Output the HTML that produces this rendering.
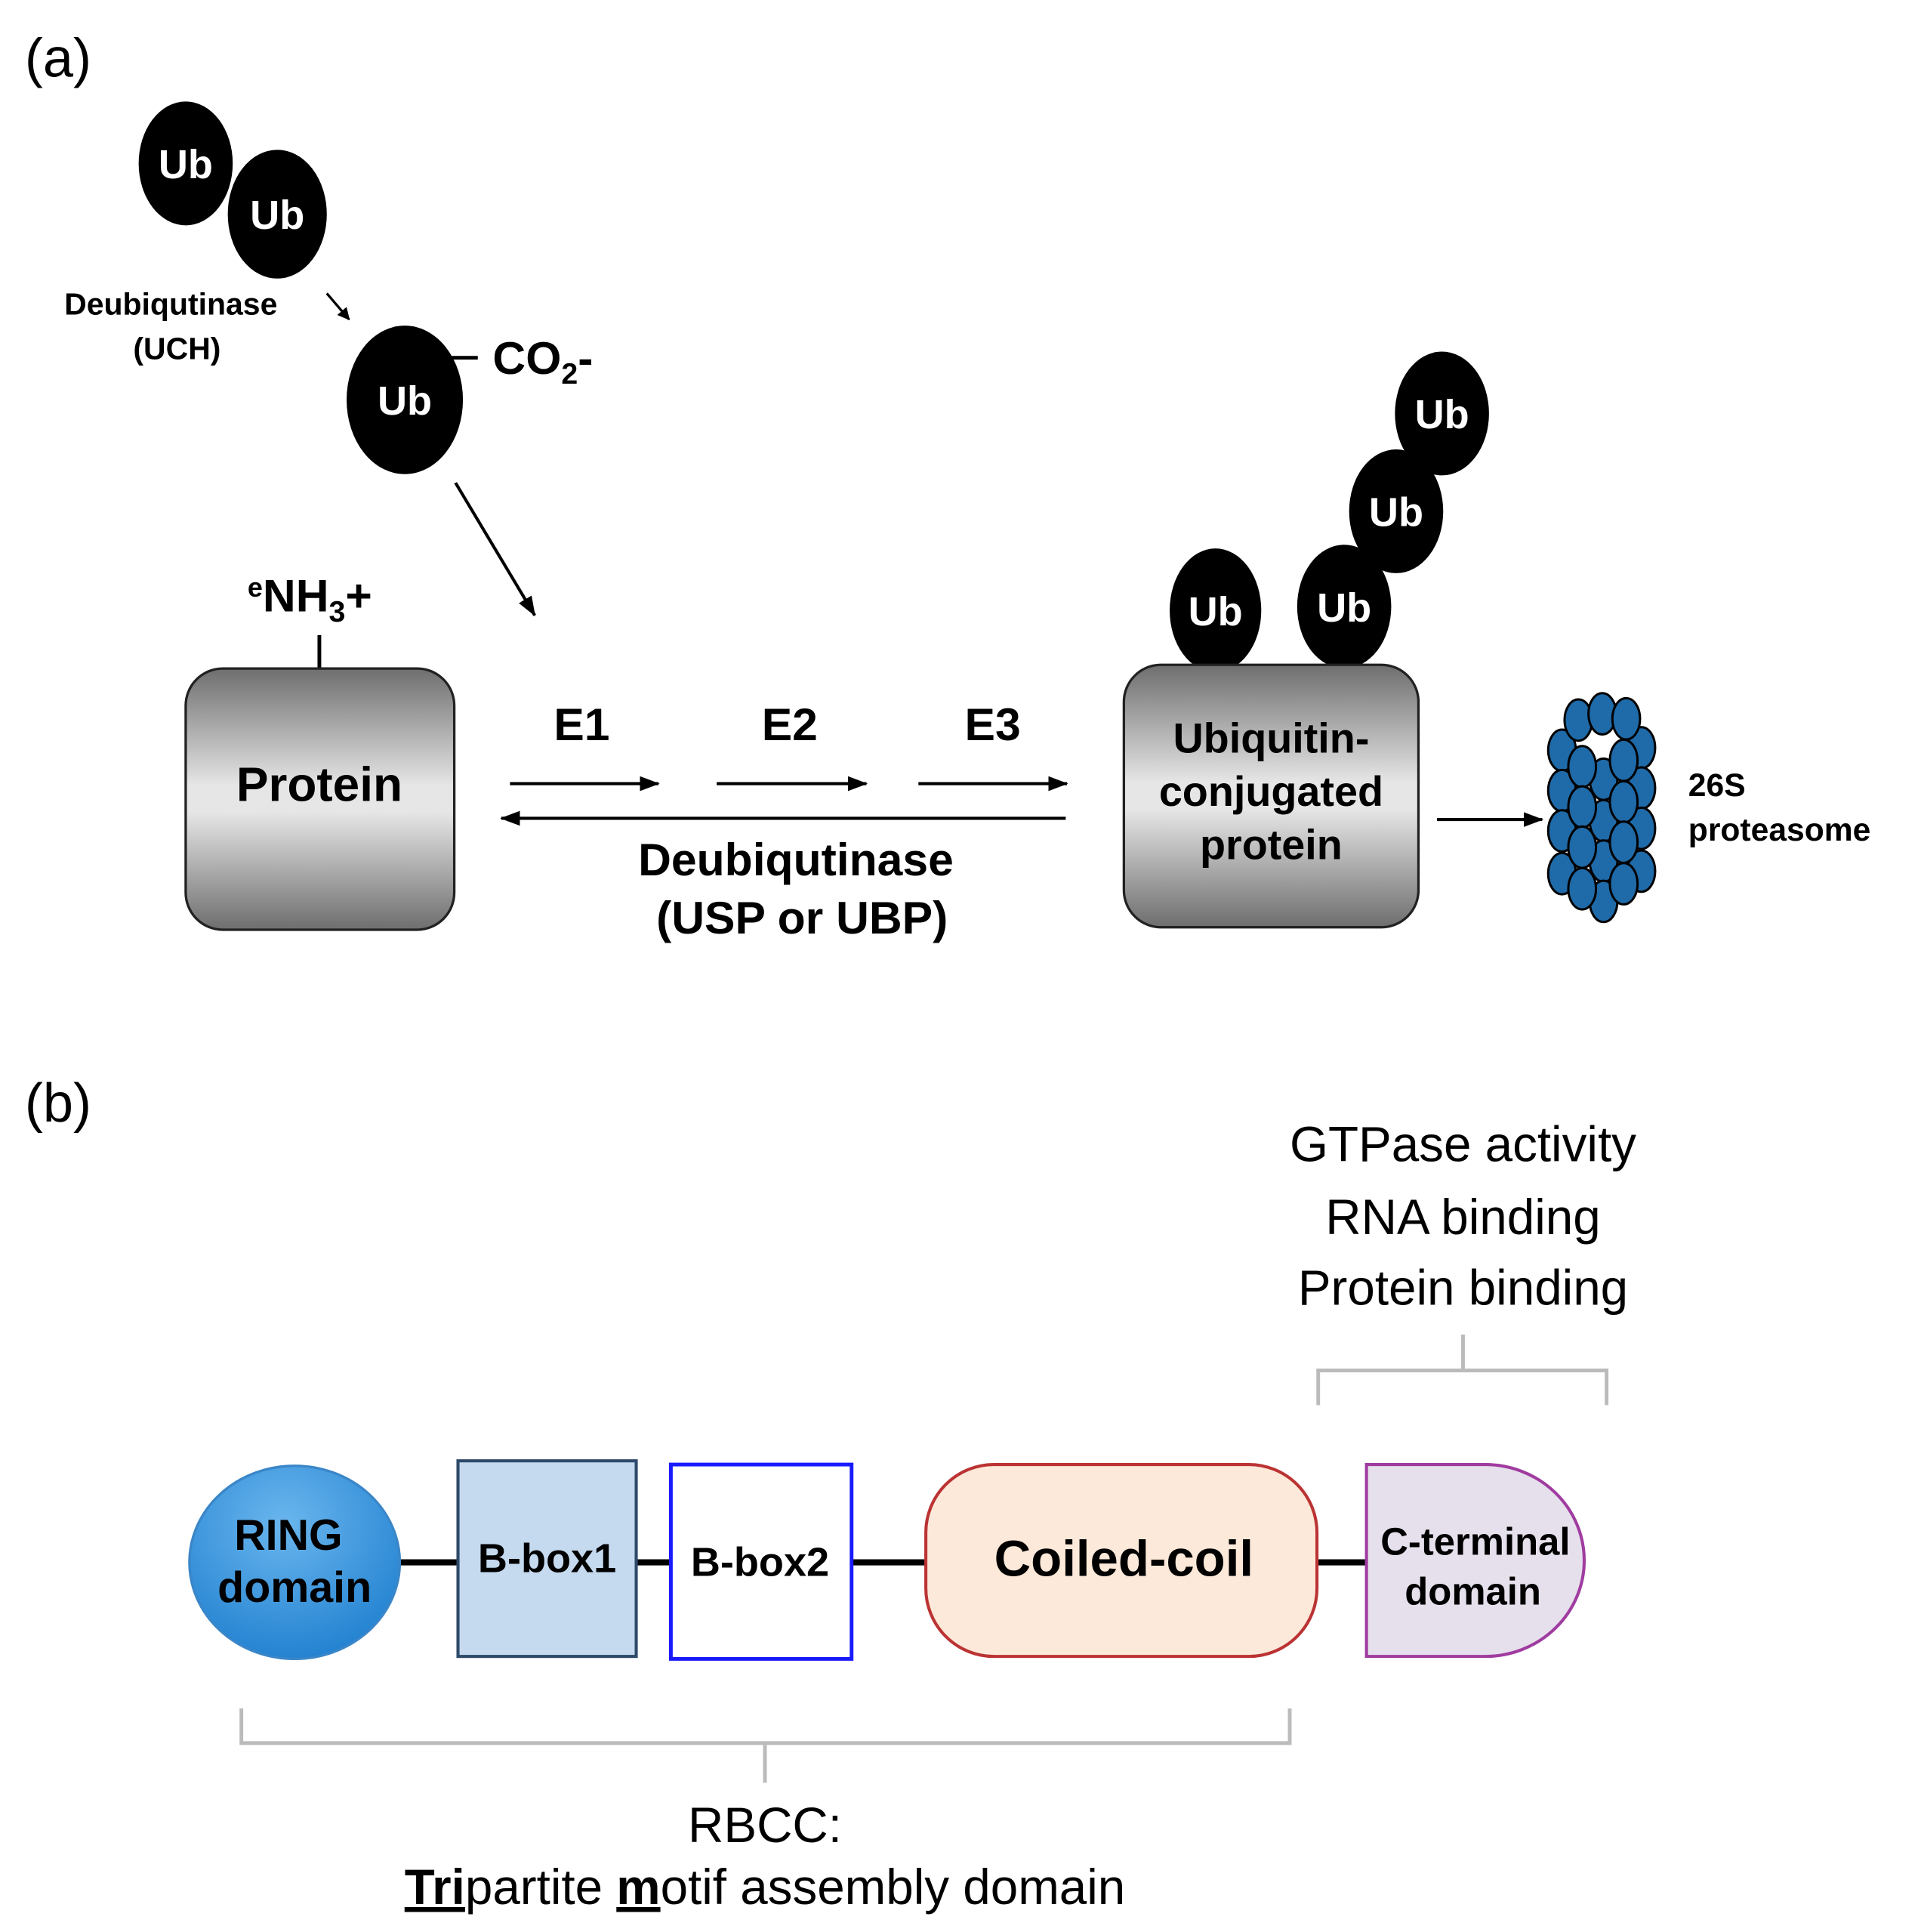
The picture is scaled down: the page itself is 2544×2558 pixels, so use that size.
<!DOCTYPE html>
<html><head><meta charset="utf-8"><style>html,body{margin:0;padding:0;background:#fff}svg{display:block}</style></head>
<body>
<svg width="2544" height="2558" viewBox="0 0 1552 1560.6" xmlns="http://www.w3.org/2000/svg" font-family="Liberation Sans, Arial, sans-serif">
<defs>
<linearGradient id="gray" x1="0" y1="0" x2="0" y2="1">
<stop offset="0" stop-color="#6e6e6e"/><stop offset="0.45" stop-color="#e6e6e6"/><stop offset="0.55" stop-color="#e6e6e6"/><stop offset="1" stop-color="#6e6e6e"/></linearGradient>
<radialGradient id="blue" cx="0.45" cy="0.3" r="0.75"><stop offset="0" stop-color="#6ab6ee"/><stop offset="1" stop-color="#1f7fcf"/></radialGradient>
<marker id="ar" markerWidth="10" markerHeight="10" refX="9" refY="5" orient="auto" markerUnits="userSpaceOnUse"><path d="M0,0 L10,5 L0,10 z" fill="#000"/></marker>
<marker id="ar2" markerWidth="16" markerHeight="12" refX="15" refY="6" orient="auto" markerUnits="userSpaceOnUse"><path d="M0,0 L16,6 L0,12 z" fill="#000"/></marker>
</defs>
<text x="20" y="62" font-size="44">(a)</text>
<g fill="#000"><ellipse cx="150" cy="132" rx="38" ry="50"/><ellipse cx="224" cy="173" rx="41" ry="53" stroke="#fff" stroke-width="2"/><ellipse cx="327" cy="323" rx="47" ry="60"/></g>
<g fill="#fff" font-weight="bold" font-size="33" text-anchor="middle"><text x="150" y="144">Ub</text><text x="224" y="185">Ub</text><text x="327" y="335">Ub</text></g>
<g font-weight="bold" text-anchor="middle" font-size="25"><text x="138" y="254">Deubiqutinase</text><text x="143" y="290">(UCH)</text></g>
<line x1="264" y1="237" x2="282" y2="258" stroke="#000" stroke-width="2" marker-end="url(#ar)"/>
<line x1="365" y1="289" x2="386" y2="289" stroke="#000" stroke-width="3"/>
<text x="398" y="302" font-size="37" font-weight="bold">CO<tspan font-size="24" dy="8">2</tspan><tspan dy="-8">-</tspan></text>
<line x1="368" y1="390" x2="432" y2="497" stroke="#000" stroke-width="2.5" marker-end="url(#ar2)"/>
<text x="200" y="494" font-size="37" font-weight="bold"><tspan font-size="22" dy="-12">e</tspan><tspan dy="12">NH</tspan><tspan font-size="24" dy="8">3</tspan><tspan dy="-8">+</tspan></text>
<line x1="258" y1="513" x2="258" y2="541" stroke="#000" stroke-width="3"/>
<rect x="150" y="540" width="217" height="211" rx="30" fill="url(#gray)" stroke="#222" stroke-width="2"/>
<text x="258" y="647" font-size="39" font-weight="bold" text-anchor="middle">Protein</text>
<g font-size="37" font-weight="bold" text-anchor="middle"><text x="470" y="598">E1</text><text x="638" y="598">E2</text><text x="802" y="598">E3</text>
<text x="643" y="707">Deubiqutinase</text><text x="648" y="754">(USP or UBP)</text></g>
<g stroke="#000" stroke-width="2.5"><line x1="412" y1="633" x2="532" y2="633" marker-end="url(#ar2)"/><line x1="579" y1="633" x2="700" y2="633" marker-end="url(#ar2)"/><line x1="742" y1="633" x2="862" y2="633" marker-end="url(#ar2)"/>
<line x1="861" y1="661" x2="405" y2="661" marker-end="url(#ar2)"/><line x1="1161" y1="662" x2="1246" y2="662" marker-end="url(#ar2)"/></g>
<g fill="#000"><ellipse cx="1165" cy="334" rx="38" ry="50"/><ellipse cx="1128" cy="413" rx="38" ry="50"/><ellipse cx="1086" cy="490" rx="38" ry="50"/><ellipse cx="982" cy="493" rx="37" ry="50"/></g>
<g fill="#fff" font-weight="bold" font-size="33" text-anchor="middle"><text x="1165" y="346">Ub</text><text x="1128" y="425">Ub</text><text x="1086" y="502">Ub</text><text x="982" y="505">Ub</text></g>
<rect x="908" y="537" width="238" height="212" rx="30" fill="url(#gray)" stroke="#222" stroke-width="2"/>
<g font-size="34" font-weight="bold" text-anchor="middle"><text x="1027" y="608">Ubiquitin-</text><text x="1027" y="651">conjugated</text><text x="1027" y="694">protein</text></g>
<g transform="translate(1244.7,549.1) scale(0.2034)" fill="#1f6aa8" stroke="#000" stroke-width="9">
<ellipse cx="85" cy="280" rx="55" ry="82"/><ellipse cx="400" cy="270" rx="55" ry="82"/>
<ellipse cx="85" cy="440" rx="55" ry="82"/><ellipse cx="400" cy="430" rx="55" ry="82"/>
<ellipse cx="85" cy="600" rx="55" ry="82"/><ellipse cx="400" cy="590" rx="55" ry="82"/>
<ellipse cx="85" cy="770" rx="55" ry="82"/><ellipse cx="400" cy="760" rx="55" ry="82"/>
<ellipse cx="150" cy="160" rx="55" ry="82"/><ellipse cx="245" cy="135" rx="55" ry="82"/><ellipse cx="340" cy="155" rx="55" ry="82"/>
<ellipse cx="250" cy="395" rx="55" ry="82"/><ellipse cx="250" cy="560" rx="55" ry="82"/><ellipse cx="250" cy="720" rx="55" ry="82"/><ellipse cx="250" cy="880" rx="55" ry="82"/>
<ellipse cx="165" cy="345" rx="55" ry="82"/><ellipse cx="330" cy="320" rx="55" ry="82"/>
<ellipse cx="165" cy="505" rx="55" ry="82"/><ellipse cx="330" cy="485" rx="55" ry="82"/>
<ellipse cx="165" cy="665" rx="55" ry="82"/><ellipse cx="330" cy="645" rx="55" ry="82"/>
<ellipse cx="165" cy="830" rx="55" ry="82"/><ellipse cx="330" cy="810" rx="55" ry="82"/>
</g>
<g font-size="26" font-weight="bold"><text x="1364" y="643">26S</text><text x="1364" y="679">proteasome</text></g>

<text x="20" y="906" font-size="44">(b)</text>
<g font-size="40" text-anchor="middle"><text x="1182" y="938">GTPase activity</text><text x="1182" y="997">RNA binding</text><text x="1182" y="1054">Protein binding</text></g>
<path d="M1065,1135 V1107 H1298 V1135 M1182,1107 V1078" fill="none" stroke="#bbb" stroke-width="3"/>
<line x1="322" y1="1262" x2="1106" y2="1262" stroke="#000" stroke-width="5"/>
<ellipse cx="238" cy="1262" rx="85" ry="78" fill="url(#blue)" stroke="#3a86c8" stroke-width="2"/>
<rect x="370" y="1180" width="144" height="158" fill="#c5d9ef" stroke="#2e4a6a" stroke-width="2.5"/>
<rect x="542" y="1183" width="146" height="157" fill="#fff" stroke="#1a1aff" stroke-width="3"/>
<rect x="748" y="1183" width="316" height="155" rx="55" fill="#fde9d9" stroke="#b33" stroke-width="2.5"/>
<path d="M1104,1183 H1200 A80,77.5 0 0 1 1200,1338 H1104 Z" fill="#e6e0ec" stroke="#a03ca0" stroke-width="2.5"/>
<g font-weight="bold" text-anchor="middle"><text x="233" y="1252" font-size="35">RING</text><text x="238" y="1294" font-size="35">domain</text>
<text x="442" y="1270" font-size="33">B-box1</text><text x="614" y="1273" font-size="33">B-box2</text>
<text x="908" y="1273" font-size="41">Coiled-coil</text>
<text x="1192" y="1256" font-size="31">C-terminal</text><text x="1190" y="1296" font-size="31">domain</text></g>
<path d="M195,1380 V1408 H1042 V1380 M618,1408 V1440" fill="none" stroke="#bbb" stroke-width="3"/>
<g font-size="40" text-anchor="middle"><text x="618" y="1488">RBCC:</text>
<text x="618" y="1538"><tspan font-weight="bold" text-decoration="underline">Tri</tspan>partite <tspan font-weight="bold" text-decoration="underline">m</tspan>otif assembly domain</text></g>
</svg>
</body></html>
